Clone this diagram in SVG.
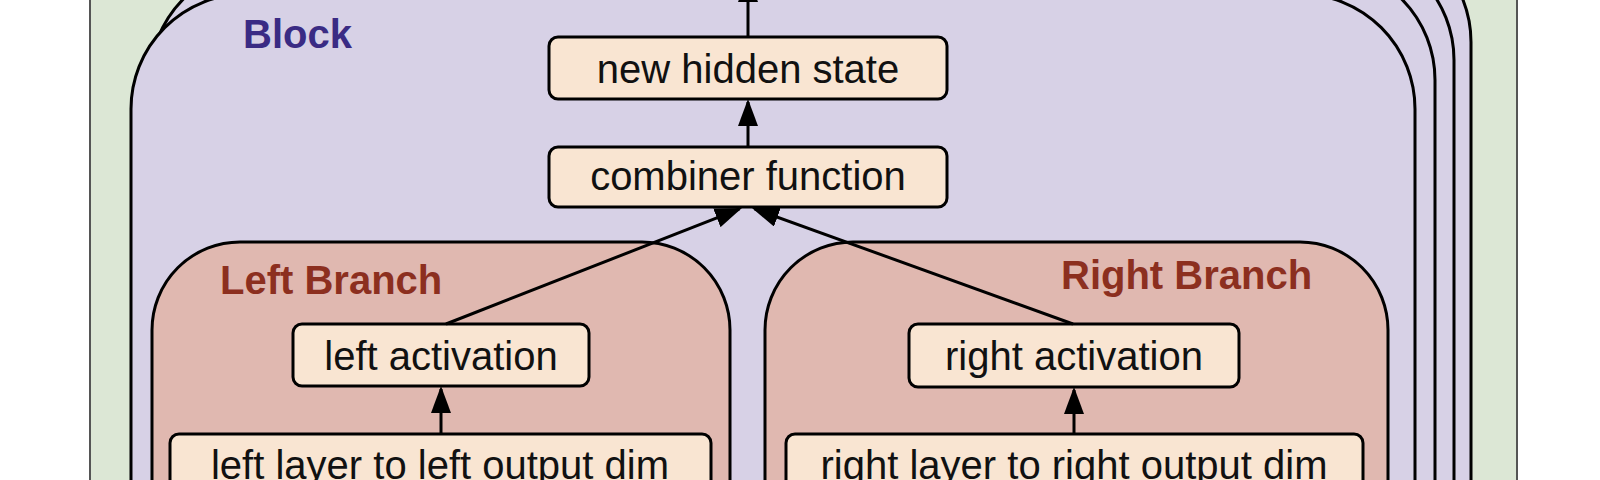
<svg xmlns="http://www.w3.org/2000/svg" width="1600" height="480" viewBox="0 0 1600 480">
<style>
.bg{fill:#dce7d5;stroke:#555;stroke-width:2}
.blk{fill:#d7d1e6;stroke:#000;stroke-width:3}
.br{fill:#e0b8b0;stroke:#000;stroke-width:3}
.nd{fill:#f9e5d2;stroke:#000;stroke-width:3}
.t{font-family:"Liberation Sans",Arial,sans-serif;font-size:40px;fill:#111;text-anchor:middle}
.lb{font-family:"Liberation Sans",Arial,sans-serif;font-size:40px;font-weight:bold}
.c{stroke:#000;stroke-width:3;fill:none;marker-end:url(#ah)}
</style>
<defs>
<marker id="ah" markerWidth="27" markerHeight="20" refX="24" refY="10" orient="auto" markerUnits="userSpaceOnUse"><path d="M0,0 L27,10 L0,20 z" fill="#000"/></marker>
<clipPath id="rightside"><rect x="700" y="-100" width="900" height="700"/></clipPath>
</defs>
<rect class="bg" x="90" y="-20" width="1427" height="520"/>
<g id="block-stack">
<g clip-path="url(#rightside)">
<rect class="blk" x="186" y="-73" width="1285" height="700" rx="115" ry="115"/>
<rect class="blk" x="169" y="-55" width="1285" height="700" rx="115" ry="115"/>
</g>
<rect class="blk" x="150" y="-35" width="1285" height="700" rx="115" ry="115"/>
</g>
<g id="block">
<rect class="blk" x="131" y="-6" width="1284" height="700" rx="115" ry="115"/>
<text class="lb" x="243" y="48" fill="#3a2b84">Block</text>
</g>
<g id="left-branch">
<rect class="br" x="152" y="242" width="578" height="400" rx="88" ry="88"/>
<text class="lb" x="220" y="294" fill="#8c2f1f">Left Branch</text>
</g>
<g id="right-branch">
<rect class="br" x="765" y="242" width="623" height="400" rx="88" ry="88"/>
<text class="lb" x="1061" y="289" fill="#8c2f1f">Right Branch</text>
</g>
<g id="new-hidden-state">
<rect class="nd" x="549" y="37" width="398" height="62" rx="9"/>
<text class="t" x="748" y="83">new hidden state</text>
</g>
<g id="combiner-function">
<rect class="nd" x="549" y="147" width="398" height="60" rx="9"/>
<text class="t" x="748" y="190">combiner function</text>
</g>
<g id="left-activation">
<rect class="nd" x="293" y="324" width="296" height="62" rx="9"/>
<text class="t" x="441" y="370">left activation</text>
</g>
<g id="right-activation">
<rect class="nd" x="909" y="324" width="330" height="63" rx="9"/>
<text class="t" x="1074" y="370">right activation</text>
</g>
<g id="left-layer">
<rect class="nd" x="170" y="434" width="541" height="80" rx="9"/>
<text class="t" x="440" y="479">left layer to left output dim</text>
</g>
<g id="right-layer">
<rect class="nd" x="786" y="434" width="577" height="80" rx="9"/>
<text class="t" x="1074" y="479">right layer to right output dim</text>
</g>
<g id="connectors">
<line class="c" x1="748" y1="37" x2="748" y2="-22"/>
<line class="c" x1="748" y1="147" x2="748" y2="102"/>
<line class="c" x1="441" y1="434" x2="441" y2="389"/>
<line class="c" x1="1074" y1="434" x2="1074" y2="390"/>
<line class="c" x1="446" y1="324" x2="739.2" y2="209.1"/>
<line class="c" x1="1073" y1="324" x2="754.8" y2="209"/>
</g>
</svg>
